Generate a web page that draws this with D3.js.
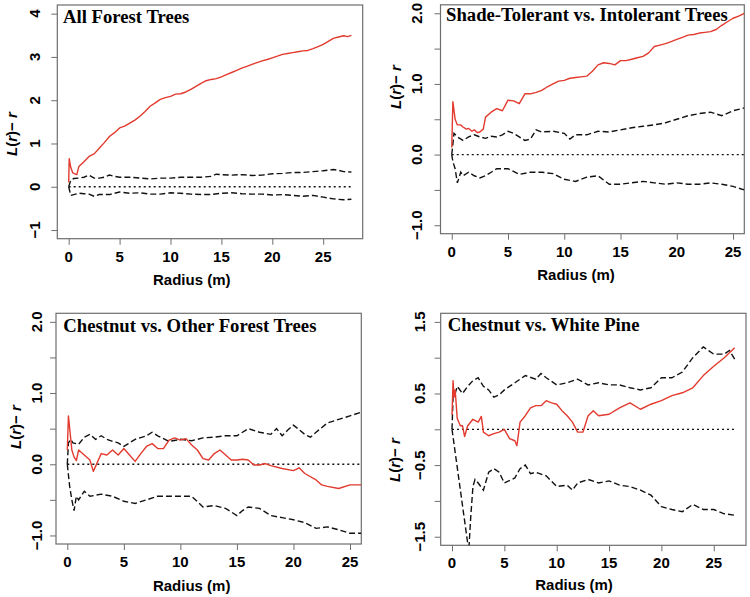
<!DOCTYPE html>
<html><head><meta charset="utf-8">
<script src="https://cdn.jsdelivr.net/npm/d3@7"></script>
<style>body{margin:0;background:#fff}svg{display:block}</style>
</head><body><svg id="c" width="750" height="597"></svg>
<script>
// ---------- data: [radius (m), L(r) - r] ----------
const titles = ["All Forest Trees", "Shade-Tolerant vs. Intolerant Trees", "Chestnut vs. Other Forest Trees", "Chestnut vs. White Pine"];
const xTickValues = [0, 5, 10, 15, 20, 25];
const yTicks1 = [-1, 0, 1, 2, 3, 4];
const yTicks2 = [-1, -0.5, 0, 0.5, 1, 1.5, 2];
const yTicks3 = [-1, -0.5, 0, 0.5, 1, 1.5, 2];
const yTicks4 = [-1.5, -1, -0.5, 0, 0.5, 1, 1.5];
const yLabels2 = [-1, 0, 1, 2];
const yLabels4 = [-1.5, -0.5, 0.5, 1.5];
const rMax = [27.77, 26, 26, 27];

const red1 = [[0,0.1],[0.05,0.65],[0.2,0.45],[0.4,0.32],[0.6,0.3],[0.8,0.28],[1,0.47],[1.5,0.58],[2,0.70],[2.5,0.76],[3,0.89],[3.5,1.02],[4,1.16],[4.5,1.25],[5,1.36],[5.5,1.40],[6,1.47],[6.5,1.54],[7,1.63],[7.5,1.74],[8,1.86],[8.5,1.94],[9,2.02],[9.5,2.06],[10,2.09],[10.5,2.14],[11,2.15],[11.5,2.19],[12,2.25],[12.5,2.32],[13,2.39],[13.5,2.45],[14,2.48],[14.5,2.50],[15,2.54],[15.5,2.59],[16,2.64],[16.5,2.69],[17,2.74],[17.5,2.78],[18,2.83],[18.5,2.87],[19,2.91],[19.5,2.94],[20,2.98],[20.5,3.02],[21,3.06],[21.5,3.08],[22,3.10],[22.5,3.12],[23,3.14],[23.5,3.15],[24,3.19],[24.5,3.24],[25,3.29],[25.5,3.36],[26,3.43],[26.5,3.46],[27,3.49],[27.4,3.47],[27.77,3.50]];
const hi1 = [[0,0],[0.2,0.15],[0.5,0.19],[1,0.2],[1.5,0.22],[2,0.27],[2.5,0.2],[3,0.2],[3.5,0.22],[4,0.27],[4.5,0.24],[5,0.22],[6,0.22],[7,0.2],[8,0.18],[9,0.2],[10,0.2],[11,0.22],[12,0.22],[13,0.22],[14,0.24],[14.5,0.29],[15,0.28],[16,0.27],[17,0.28],[18,0.26],[19,0.27],[20,0.30],[21,0.31],[22,0.33],[23,0.33],[24,0.35],[25,0.37],[26,0.40],[26.5,0.38],[27,0.35],[27.77,0.34]];
const lo1 = [[0,0],[0.2,-0.2],[0.5,-0.18],[1,-0.15],[1.5,-0.16],[2,-0.17],[2.5,-0.22],[3,-0.18],[4,-0.18],[5,-0.12],[6,-0.15],[7,-0.14],[8,-0.17],[9,-0.17],[10,-0.14],[11,-0.15],[12,-0.17],[13,-0.18],[14,-0.18],[15,-0.15],[16,-0.14],[17,-0.16],[18,-0.17],[19,-0.17],[20,-0.19],[21,-0.18],[22,-0.2],[23,-0.22],[24,-0.2],[25,-0.24],[26,-0.28],[27,-0.3],[27.77,-0.29]];

const red2 = [[0,0.1],[0.1,0.75],[0.3,0.5],[0.5,0.42],[0.8,0.42],[1,0.39],[1.3,0.36],[1.5,0.37],[1.8,0.33],[2,0.35],[2.3,0.31],[2.5,0.32],[2.8,0.36],[3,0.53],[3.5,0.6],[4,0.65],[4.5,0.62],[5,0.77],[5.5,0.76],[6,0.72],[6.5,0.86],[7,0.86],[7.5,0.88],[8,0.91],[8.5,0.96],[9,1.0],[9.5,1.04],[10,1.05],[10.5,1.08],[11,1.09],[11.5,1.10],[12,1.11],[12.5,1.18],[13,1.27],[13.5,1.30],[14,1.29],[14.5,1.27],[15,1.33],[15.5,1.33],[16,1.35],[16.5,1.37],[17,1.39],[17.5,1.44],[18,1.53],[18.5,1.55],[19,1.57],[19.5,1.60],[20,1.63],[20.5,1.66],[21,1.69],[21.5,1.70],[22,1.72],[22.5,1.73],[23,1.74],[23.5,1.77],[24,1.83],[24.5,1.88],[25,1.93],[25.5,1.96],[26,2.0]];
const hi2 = [[0,0],[0.2,0.3],[0.5,0.25],[1,0.2],[1.5,0.25],[2,0.28],[2.5,0.25],[3,0.23],[3.5,0.26],[4,0.25],[4.5,0.28],[5,0.33],[5.5,0.3],[6,0.25],[6.5,0.2],[7,0.22],[7.5,0.35],[8,0.32],[9,0.33],[10,0.3],[10.5,0.22],[11,0.28],[12,0.28],[13,0.33],[14,0.32],[15,0.35],[16,0.38],[17,0.40],[18,0.42],[19,0.45],[20,0.50],[21,0.55],[22,0.58],[23,0.60],[24,0.55],[25,0.62],[26,0.66]];
const lo2 = [[0,0],[0.1,-0.1],[0.3,-0.2],[0.5,-0.4],[0.8,-0.25],[1,-0.3],[1.5,-0.25],[2,-0.3],[2.5,-0.33],[3,-0.3],[3.5,-0.25],[4,-0.2],[5,-0.2],[6,-0.28],[7,-0.25],[8,-0.25],[9,-0.27],[10,-0.35],[11,-0.38],[12,-0.32],[13,-0.3],[14,-0.42],[15,-0.42],[16,-0.4],[17,-0.38],[18,-0.4],[19,-0.42],[20,-0.4],[21,-0.42],[22,-0.42],[23,-0.40],[24,-0.42],[25,-0.45],[26,-0.5]];

const red3 = [[0,0.2],[0.1,0.68],[0.4,0.2],[0.6,0.1],[0.8,0.05],[1,0.2],[1.5,0.13],[2,0.06],[2.3,-0.1],[2.5,-0.03],[3,0.15],[3.5,0.13],[4,0.2],[4.5,0.13],[5,0.22],[5.5,0.13],[6,0.04],[6.5,0.15],[7,0.25],[7.5,0.29],[8,0.22],[8.5,0.22],[9,0.34],[9.5,0.37],[10,0.34],[10.5,0.36],[11,0.27],[11.5,0.2],[12,0.08],[12.5,0.06],[13,0.15],[13.5,0.2],[14,0.13],[14.5,0.06],[15,0.06],[15.5,0.07],[16,0.06],[16.5,-0.01],[17,-0.01],[17.5,0.01],[18,-0.02],[19,-0.06],[20,-0.09],[20.5,-0.05],[21,-0.13],[22,-0.22],[22.5,-0.29],[23,-0.31],[24,-0.34],[25,-0.29],[26,-0.29]];
const hi3 = [[0,0],[0.1,0.3],[0.3,0.35],[0.5,0.3],[1,0.28],[1.5,0.38],[2,0.42],[2.5,0.35],[3,0.4],[3.5,0.35],[4,0.32],[4.5,0.3],[5,0.25],[5.5,0.3],[6,0.35],[7,0.4],[7.5,0.45],[8,0.4],[9,0.32],[10,0.35],[11,0.33],[12,0.37],[13,0.38],[14,0.40],[15,0.40],[16,0.5],[17,0.45],[18,0.42],[18.5,0.5],[19,0.4],[19.5,0.48],[20,0.55],[21,0.42],[21.5,0.38],[22,0.45],[23,0.58],[24,0.63],[25,0.68],[26,0.73]];
const lo3 = [[0,0],[0.2,-0.3],[0.4,-0.5],[0.6,-0.65],[0.8,-0.45],[1,-0.5],[1.5,-0.38],[2,-0.45],[3,-0.42],[4,-0.45],[5,-0.52],[6,-0.55],[7,-0.5],[8,-0.45],[9,-0.45],[10,-0.45],[11,-0.45],[12,-0.6],[13,-0.58],[14,-0.62],[15,-0.72],[15.5,-0.65],[16,-0.6],[17,-0.62],[18,-0.72],[19,-0.75],[20,-0.78],[21,-0.82],[22,-0.9],[23,-0.88],[24,-0.92],[25,-0.97],[26,-0.97]];

const red4 = [[0,0.2],[0.1,0.68],[0.2,0.45],[0.3,0.55],[0.5,0.15],[0.8,0.05],[1,0.05],[1.2,-0.1],[1.5,0.05],[2,0.14],[2.5,0.1],[2.8,0.18],[3,-0.04],[3.5,-0.09],[4,-0.06],[4.5,-0.04],[5,0],[5.5,-0.13],[6,-0.16],[6.2,-0.23],[6.5,0.1],[7,0.19],[7.5,0.3],[8,0.33],[8.5,0.33],[9,0.4],[9.5,0.37],[10,0.35],[10.5,0.26],[11,0.19],[11.5,0.1],[12,-0.04],[12.5,-0.04],[13,0.19],[13.5,0.26],[14,0.19],[15,0.21],[16,0.3],[17,0.37],[18,0.28],[19,0.35],[20,0.4],[21,0.47],[22,0.51],[23,0.58],[24,0.75],[25,0.88],[26,1.0],[27,1.14]];
const hi4 = [[0,0],[0.1,0.45],[0.3,0.5],[0.5,0.6],[1,0.5],[1.5,0.6],[2,0.68],[2.5,0.72],[3,0.6],[3.5,0.55],[4,0.45],[4.5,0.48],[5,0.55],[6,0.65],[7,0.75],[8,0.7],[8.5,0.78],[9,0.72],[10,0.62],[11,0.65],[12,0.7],[13,0.62],[14,0.65],[15,0.62],[16,0.62],[17,0.58],[18,0.55],[19,0.58],[20,0.72],[21,0.72],[22,0.8],[23,1.0],[24,1.15],[25,1.05],[26,1.05],[26.5,1.1],[27,0.98]];
const lo4 = [[0,0],[1.6,-1.7],[1.8,-1.2],[2,-0.8],[2.2,-0.7],[2.5,-0.75],[3,-0.85],[3.5,-0.6],[4,-0.55],[4.5,-0.6],[5,-0.75],[6,-0.68],[6.5,-0.55],[7,-0.5],[7.5,-0.62],[8,-0.6],[9,-0.65],[10,-0.8],[11,-0.78],[11.5,-0.85],[12,-0.75],[13,-0.7],[14,-0.75],[15,-0.72],[16,-0.78],[17,-0.8],[18,-0.85],[19,-0.92],[20,-1.08],[21,-1.12],[22,-1.15],[23,-1.05],[24,-1.12],[25,-1.12],[26,-1.18],[27,-1.2]];

// ---------- layout ----------
const panels = [
  {box:[57.3,5,362.7,238.7], xd:[-1.12,28.88], yd:[-1.2,4.2], yt:yTicks1, yl:yTicks1, fmt:d3.format("d"),
   red:red1, hi:hi1, lo:lo1, rmax:rMax[0], title:[63,22.7], ytx:39.5, xtb:261.5, xlab:[191.8,285], ylab:[17,134]},
  {box:[440.5,4.8,744.3,233.7], xd:[-1,26], yd:[-1.12,2.12], yt:yTicks2, yl:yLabels2, fmt:d3.format(".1f"),
   red:red2, hi:hi2, lo:lo2, rmax:rMax[1], title:[446,21], ytx:421.5, xtb:256.5, xlab:[576,280], ylab:[400.5,87]},
  {box:[56,313.3,361.3,544], xd:[-1,26], yd:[-1.12,2.12], yt:yTicks3, yl:yLabels2, fmt:d3.format(".1f"),
   red:red3, hi:hi3, lo:lo3, rmax:rMax[2], title:[63.3,332.3], ytx:41.5, xtb:566.5, xlab:[191.7,591], ylab:[20.5,427]},
  {box:[440.7,313.3,746,545.3], xd:[-1.08,28.08], yd:[-1.62,1.62], yt:yTicks4, yl:yLabels4, fmt:d3.format(".1f"),
   red:red4, hi:hi4, lo:lo4, rmax:rMax[3], title:[447.7,330.7], ytx:425, xtb:568, xlab:[574,590], ylab:[400,460]}
];

const svg = d3.select("#c");
const sans = "'Liberation Sans', Arial, sans-serif";
const serif = "'Liberation Serif', 'Times New Roman', serif";
const frameCol = "#6e6e6e";

panels.forEach((p, i) => {
  const [l, t, r, b] = p.box;
  const x = d3.scaleLinear().domain(p.xd).range([l, r]);
  const y = d3.scaleLinear().domain(p.yd).range([b, t]);
  const g = svg.append("g");
  const cid = "clip" + i;
  svg.append("clipPath").attr("id", cid).append("rect").attr("x", l).attr("y", t).attr("width", r - l).attr("height", b - t);

  // axes
  const xa = g.append("g").attr("transform", `translate(0,${b})`)
    .call(d3.axisBottom(x).tickValues(xTickValues).tickSize(6).tickSizeOuter(0).tickFormat(""));
  xa.select(".domain").remove();
  xa.selectAll("line").attr("stroke", frameCol);
  const ya = g.append("g").attr("transform", `translate(${l},0)`)
    .call(d3.axisLeft(y).tickValues(p.yt).tickSize(6).tickSizeOuter(0).tickFormat(""));
  ya.select(".domain").remove();
  ya.selectAll("line").attr("stroke", frameCol);

  // tick labels
  g.selectAll(".xtl").data(xTickValues).enter().append("text")
    .attr("x", d => x(d)).attr("y", p.xtb).attr("text-anchor", "middle")
    .attr("font-family", sans).attr("font-weight", "bold").attr("font-size", 15).text(d => d);
  g.selectAll(".ytl").data(p.yl).enter().append("text")
    .attr("transform", d => `translate(${p.ytx},${y(d)}) rotate(-90)`).attr("text-anchor", "middle")
    .attr("font-family", sans).attr("font-weight", "bold").attr("font-size", 15).text(d => p.fmt(d));

  // frame
  g.append("rect").attr("x", l).attr("y", t).attr("width", r - l).attr("height", b - t)
    .attr("fill", "none").attr("stroke", frameCol).attr("stroke-width", 1.2);

  const line = d3.line().x(d => x(d[0])).y(d => y(d[1]));
  const lines = g.append("g").attr("clip-path", `url(#${cid})`);
  lines.append("path").datum([[0, 0], [p.rmax, 0]]).attr("d", line)
    .attr("fill", "none").attr("stroke", "#111").attr("stroke-width", 1.3).attr("stroke-dasharray", "2,3");
  [p.hi, p.lo].forEach(s => lines.append("path").datum(s).attr("d", line)
    .attr("fill", "none").attr("stroke", "#111").attr("stroke-width", 1.4).attr("stroke-dasharray", "6,3"));
  lines.append("path").datum(p.red).attr("d", line)
    .attr("fill", "none").attr("stroke", "#e23a2e").attr("stroke-width", 1.4).attr("stroke-linejoin", "round");

  // title
  g.append("text").attr("x", p.title[0]).attr("y", p.title[1])
    .attr("font-family", serif).attr("font-weight", "bold").attr("font-size", 18.7).text(titles[i]);

  // axis titles
  g.append("text").attr("x", p.xlab[0]).attr("y", p.xlab[1]).attr("text-anchor", "middle")
    .attr("font-family", sans).attr("font-weight", "bold").attr("font-size", 15).text("Radius (m)");
  const yt = g.append("text").attr("transform", `translate(${p.ylab[0]},${p.ylab[1]}) rotate(-90)`)
    .attr("text-anchor", "middle").attr("font-family", sans).attr("font-weight", "bold").attr("font-size", 15);
  yt.append("tspan").attr("font-style", "italic").text("L");
  yt.append("tspan").text("(");
  yt.append("tspan").attr("font-style", "italic").text("r");
  yt.append("tspan").text(")\u2212 ");
  yt.append("tspan").attr("font-style", "italic").text("r");
});
</script></body></html>
